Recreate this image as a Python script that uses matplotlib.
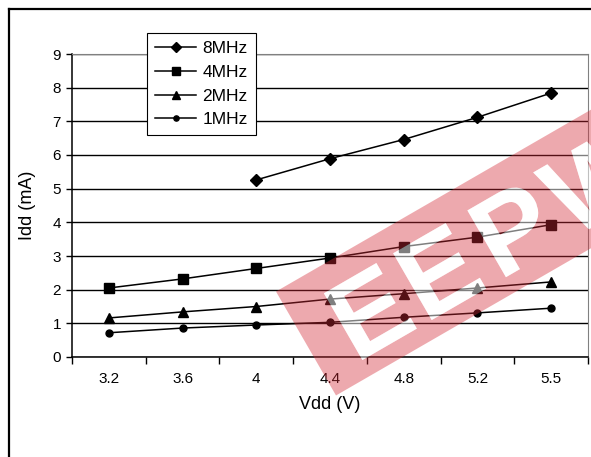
import numpy as np
import matplotlib
matplotlib.use("Agg")
import matplotlib.pyplot as plt
from matplotlib.lines import Line2D
from matplotlib.patches import PathPatch
from matplotlib.path import Path
from matplotlib.textpath import TextPath
from matplotlib.font_manager import FontProperties
import matplotlib.transforms as mtransforms

plt.rcParams['font.family'] = ['Liberation Sans', 'DejaVu Sans']

# data
vdd = ["3.2", "3.6", "4", "4.4", "4.8", "5.2", "5.5"]
idd_8mhz = [np.nan, np.nan, 5.26, 5.89, 6.46, 7.12, 7.84]
idd_4mhz = [2.05, 2.32, 2.63, 2.94, 3.28, 3.56, 3.93]
idd_2mhz = [1.16, 1.34, 1.50, 1.72, 1.88, 2.05, 2.23]
idd_1mhz = [0.72, 0.86, 0.95, 1.03, 1.18, 1.31, 1.45]
series = [("8MHz", idd_8mhz, "D", 6.5),
          ("4MHz", idd_4mhz, "s", 7),
          ("2MHz", idd_2mhz, "^", 7.5),
          ("1MHz", idd_1mhz, "o", 5)]

W, H = 591, 457
fig = plt.figure(figsize=(W / 100, H / 100), dpi=100)
ax = fig.add_axes([72 / W, 1 - 357 / H, (588 - 72) / W, (357 - 54) / H])

x = np.arange(len(vdd))
for name, vals, mk, ms in series:
    ax.plot(x, vals, color="black", lw=1.1, marker=mk, ms=ms,
            mfc="black", mec="black", label=name, zorder=3)

ax.set_xlim(-0.5, len(vdd) - 0.5)
ax.set_ylim(0, 9)
ax.set_yticks(range(10))
ax.yaxis.grid(True, color="black", lw=1)
ax.set_axisbelow(True)
ax.set_xticks(x)
ax.set_xticklabels(vdd)
ax.set_xticks(np.arange(-0.5, len(vdd)), minor=True)
ax.tick_params(axis="x", which="major", length=0, pad=11, labelsize=11)
ax.tick_params(axis="x", which="minor", length=5, width=1, direction="out")
ax.tick_params(axis="y", length=4, width=1, direction="out", pad=4, labelsize=11)
for s in ["left", "bottom"]:
    ax.spines[s].set_color("black")
    ax.spines[s].set_linewidth(1.1)
for s in ["right", "top"]:
    ax.spines[s].set_color("#808080")
    ax.spines[s].set_linewidth(0.8)

ax.set_xlabel("Vdd (V)", fontsize=13, labelpad=7)
ax.set_ylabel("Idd (mA)", fontsize=13, labelpad=12)

leg = ax.legend(loc="upper left", bbox_to_anchor=(147 / W, 1 - 33 / H),
                bbox_transform=fig.transFigure, borderaxespad=0,
                fancybox=False, framealpha=1, edgecolor="black",
                fontsize=12.5, handlelength=2.4, handletextpad=0.35,
                labelspacing=0.5, borderpad=0.45, numpoints=1,
                markerscale=0.75)
leg.get_frame().set_linewidth(0.8)
leg.set_zorder(5)

# outer frame (top and left edges visible)
fig.add_artist(Line2D([9 / W, 1], [1 - 9 / H, 1 - 9 / H], color="black", lw=1.6,
                      transform=fig.transFigure))
fig.add_artist(Line2D([9 / W, 9 / W], [0, 1 - 9 / H], color="black", lw=1.6,
                      transform=fig.transFigure))

# watermark: red band with white letters cut out
fp = FontProperties(family="Liberation Sans", weight="bold")
letters = []
for ch, u in zip("EEPW", [72, 152, 238, 335]):
    p = TextPath((0, 0), ch, size=112, prop=fp)
    ext = p.get_extents()
    letters.append(p.transformed(mtransforms.Affine2D().translate(
        u - (ext.x0 + ext.x1) / 2, -4 - (ext.y0 + ext.y1) / 2)))
tp = Path.make_compound_path(*letters)

def area(p):
    return 0.5 * np.sum(p[:-1, 0] * p[1:, 1] - p[1:, 0] * p[:-1, 1])
big = max(tp.to_polygons(), key=lambda p: abs(area(p)))
rect = np.array([[0, -60], [450, -60], [450, 60], [0, 60], [0, -60]])
if np.sign(area(rect)) == np.sign(area(big)):
    rect = rect[::-1]
rect_path = Path(rect, [Path.MOVETO] + [Path.LINETO] * 3 + [Path.CLOSEPOLY])
band = Path.make_compound_path(rect_path, tp)
tr = mtransforms.Affine2D().rotate_deg(30).translate(306, H - 343.5)
fig.add_artist(PathPatch(band, facecolor="#d42a35", alpha=0.4, lw=0,
                         transform=tr, zorder=10))
fig.add_artist(PathPatch(tp, facecolor="white", alpha=0.5, lw=0,
                         transform=tr, zorder=10))

fig.savefig("out.png", dpi=100)
